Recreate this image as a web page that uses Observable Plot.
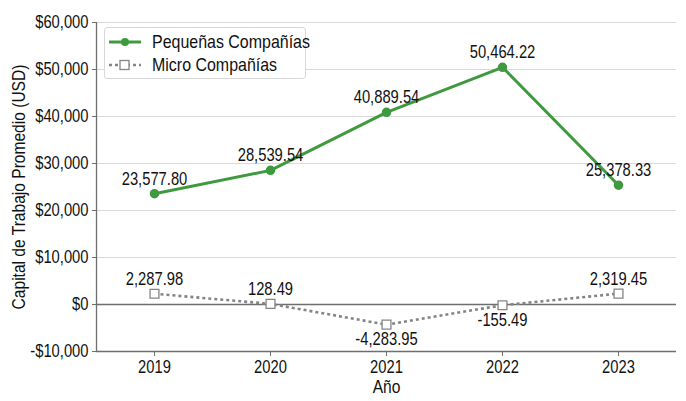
<!DOCTYPE html>
<html>
<head>
<meta charset="utf-8">
<script src="https://cdn.jsdelivr.net/npm/d3@7"></script>
<script src="https://cdn.jsdelivr.net/npm/@observablehq/plot@0.6"></script>
<style>
  html, body { margin: 0; padding: 0; background: #fff; }
  #wrap { position: relative; width: 686px; height: 401px; font-family: "Liberation Sans", Arial, sans-serif; }
  #legend { position: absolute; left: 104px; top: 27px; width: 202px; height: 52px; background: #fff; border: 1px solid #d8d8d8; border-radius: 3px; box-sizing: border-box; padding-top: 2px; }
  .item { display: flex; align-items: center; height: 23px; font-size: 19px; color: #111; white-space: nowrap; }
  .item svg { margin-left: 3px; margin-right: 10px; flex-shrink: 0; }
  .item span { display: inline-block; transform: scaleX(0.84); transform-origin: left center; }
</style>
</head>
<body>
<div id="wrap"></div>
<script>
const years = [2019, 2020, 2021, 2022, 2023];
const pequenas = [23577.80, 28539.54, 40889.54, 50464.22, 25378.33];
const micro = [2287.98, 128.49, -4283.95, -155.49, 2319.45];
const microLabelBelow = [false, false, true, true, false];
const yTicks = [-10000, 0, 10000, 20000, 30000, 40000, 50000, 60000];

const green = "#3f9a3f";
const gray = "#858585";
const FONT = "Liberation Sans, Arial, sans-serif";
const NARROW = 0.82;

const pData = years.map((y, i) => ({year: y, value: pequenas[i]}));
const mData = years.map((y, i) => ({year: y, value: micro[i], below: microLabelBelow[i]}));
const fmt = d => d3.format(",.2f")(d).replace("\u2212", "-");
const money = d => (d < 0 ? "-$" : "$") + d3.format(",")(Math.abs(d));

const chart = Plot.plot({
  width: 686,
  height: 401,
  marginLeft: 96,
  marginRight: 10,
  marginTop: 22,
  marginBottom: 50,
  style: {fontFamily: FONT, fontSize: "18px", color: "#111", background: "#fff"},
  x: {type: "linear", domain: [2018.5, 2023.5], ticks: years, tickFormat: d => String(d), label: null},
  y: {domain: [-10000, 60000], ticks: yTicks, tickFormat: money, label: null},
  marks: [
    Plot.gridY(yTicks, {stroke: "#d9d9d9", strokeOpacity: 1, strokeWidth: 1}),
    Plot.ruleY([0], {stroke: "#6e6e6e", strokeWidth: 1.3}),
    Plot.ruleY([-10000], {stroke: "#6e6e6e", strokeWidth: 1.3}),
    Plot.ruleX([2018.5], {stroke: "#6e6e6e", strokeWidth: 1.3}),
    Plot.axisY(yTicks, {tickFormat: money, tickSize: 4, tickPadding: 4, fontSize: 18, stroke: "#6e6e6e", label: null}),
    Plot.axisX(years, {tickFormat: d => String(d), tickSize: 5, tickPadding: 4, fontSize: 18, stroke: "#6e6e6e", label: null}),
    Plot.text(["Capital de Trabajo Promedio (USD)"], {frameAnchor: "left", rotate: -90, textAnchor: "middle", lineAnchor: "middle", dx: -78, fontSize: 19}),
    Plot.text(["Año"], {frameAnchor: "bottom", lineAnchor: "middle", dy: 35, fontSize: 19}),
    Plot.line(mData, {x: "year", y: "value", stroke: gray, strokeWidth: 2.6, strokeDasharray: "3,3", strokeLinecap: "butt"}),
    Plot.dot(mData, {x: "year", y: "value", symbol: "square", r: 5, fill: "#fff", stroke: gray, strokeWidth: 1.3}),
    Plot.text(mData, {x: "year", y: "value", text: d => fmt(d.value), fontSize: 18,
      filter: d => !d.below, lineAnchor: "bottom", dy: -9}),
    Plot.text(mData, {x: "year", y: "value", text: d => fmt(d.value), fontSize: 18,
      filter: d => d.below, lineAnchor: "top", dy: 8}),
    Plot.line(pData, {x: "year", y: "value", stroke: green, strokeWidth: 3}),
    Plot.dot(pData, {x: "year", y: "value", r: 4, fill: green, stroke: green}),
    Plot.text(pData, {x: "year", y: "value", text: d => fmt(d.value), fontSize: 18, lineAnchor: "bottom", dy: -9})
  ]
});

// Narrow the glyphs horizontally (reference uses a condensed sans face)
chart.querySelectorAll("text").forEach(t => {
  const xa = t.getAttribute("x");
  const x = xa && !/em$/.test(xa) ? parseFloat(xa) || 0 : 0;
  const tr = t.getAttribute("transform") || "";
  t.setAttribute("transform", `${tr} translate(${x},0) scale(${NARROW},1) translate(${-x},0)`);
});

const wrap = document.getElementById("wrap");
wrap.appendChild(chart);
const legend = document.createElement("div");
legend.id = "legend";
legend.innerHTML = `
  <div class="item"><svg width="34" height="10"><line x1="1" y1="5" x2="33" y2="5" stroke="${green}" stroke-width="3"/><circle cx="17" cy="5" r="4" fill="${green}"/></svg><span>Pequeñas Compañías</span></div>
  <div class="item"><svg width="34" height="12"><line x1="1" y1="6" x2="33" y2="6" stroke="${gray}" stroke-width="2.5" stroke-dasharray="3,3"/><rect x="12" y="1.5" width="9" height="9" fill="#fff" stroke="${gray}" stroke-width="1.3"/></svg><span>Micro Compañías</span></div>`;
wrap.appendChild(legend);
</script>
</body>
</html>
